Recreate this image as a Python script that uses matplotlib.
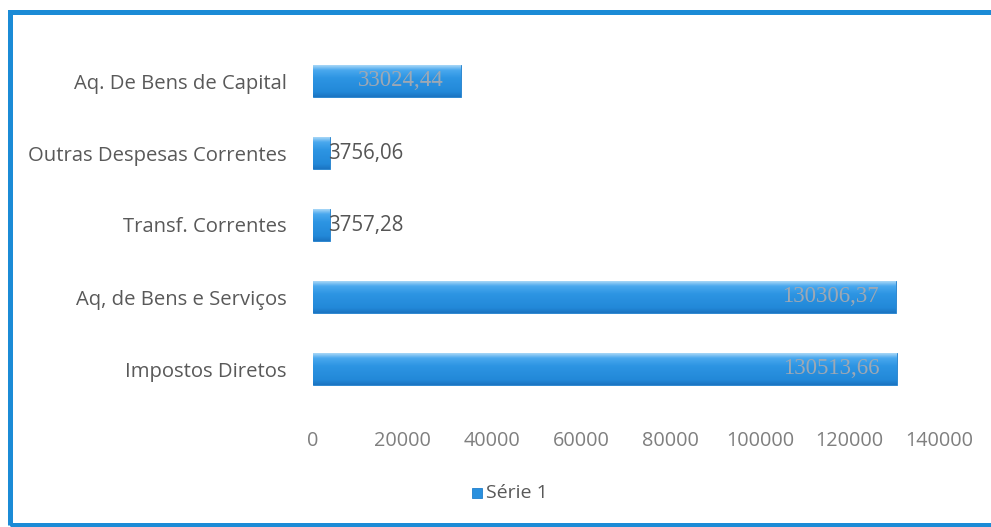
import matplotlib
matplotlib.use("Agg")
import matplotlib.pyplot as plt
import numpy as np
from matplotlib.colors import LinearSegmentedColormap
from matplotlib.patches import Rectangle

categories = ["Impostos Diretos", "Aq, de Bens e Serviços", "Transf. Correntes",
              "Outras Despesas Correntes", "Aq. De Bens de Capital"]
values = [130513.66, 130306.37, 3757.28, 3756.06, 33024.44]
value_labels = ["130513,66", "130306,37", "3757,28", "3756,06", "33024,44"]
xticks = [0, 20000, 40000, 60000, 80000, 100000, 120000, 140000]
series_name = "Série 1"

plt.rcParams['font.family'] = ['Open Sans', 'DejaVu Sans']

W, H = 991, 527
fig = plt.figure(figsize=(W / 100, H / 100), dpi=100)
fig.patch.set_facecolor("white")
ax = fig.add_axes([313 / W, 1 - 405 / H, 626 / W, 360 / H])

y = np.arange(len(categories))
bars = ax.barh(y, values, height=0.44, color="#2a90de", edgecolor="#1f7fcc", linewidth=0.6, zorder=2)

cmap = LinearSegmentedColormap.from_list("bar", [(0.0, "#1b74c2"), (0.15, "#2288d8"), (0.6, "#2d95e3"),
                                                 (0.85, "#4aa8ee"), (1.0, "#a6d6f7")])
grad = np.linspace(0, 1, 64).reshape(-1, 1)
for b in bars:
    x0, y0, w, h = b.get_x(), b.get_y(), b.get_width(), b.get_height()
    im = ax.imshow(grad, cmap=cmap, aspect="auto", origin="lower",
                   extent=[x0, x0 + w, y0, y0 + h], zorder=3)
    im.set_clip_path(b)

for b, v, lab in zip(bars, values, value_labels):
    yc = b.get_y() + b.get_height() / 2
    if v > 20000:
        ax.annotate(lab, (v, yc), xytext=(-12, 0), textcoords="offset points",
                    ha="right", va="center", color="#9ea8b4", fontsize=16.5,
                    family=["Liberation Serif", "DejaVu Serif"], zorder=5)
    else:
        ax.annotate(lab, (v, yc), xytext=(-1.5, 0), textcoords="offset points",
                    ha="left", va="center", color="#555555", fontsize=14.8, zorder=5)

ax.set_xlim(0, 140000)
ax.set_ylim(-0.5, len(categories) - 0.5)
ax.set_yticks(y)
ax.set_yticklabels(categories, color="#595959", fontsize=14.6)
ax.set_xticks(xticks)
ax.set_xticklabels([str(t) for t in xticks], color="#7f7f7f", fontsize=14.3)
ax.tick_params(axis="y", length=0, pad=19)
ax.tick_params(axis="x", length=0, pad=19)
for s in ax.spines.values():
    s.set_visible(False)
ax.set_facecolor("none")

# legend
fig.patches.append(Rectangle((472 / W, 1 - 498 / H), 10 / W, 10 / H, transform=fig.transFigure,
                             facecolor="#2a90de", edgecolor="#1f7fcc", linewidth=0.6))
fig.text(486 / W, 1 - 493 / H, series_name, color="#595959", fontsize=14, va="center", ha="left")

# border (right side runs past the image edge)
fig.patches.append(Rectangle((10 / W, 1 - 525 / H), 1000 / W, 513 / H, transform=fig.transFigure,
                             fill=False, edgecolor="#1b8bd6", linewidth=3.6))

fig.savefig("out.png", dpi=100)
